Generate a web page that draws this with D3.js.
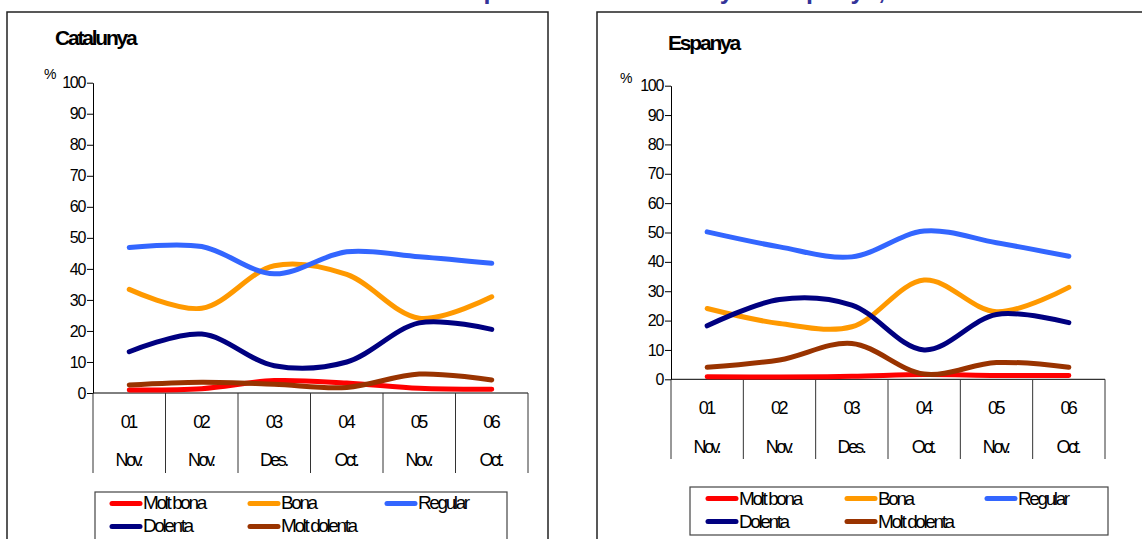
<!DOCTYPE html>
<html>
<head>
<meta charset="utf-8">
<script src="https://cdn.jsdelivr.net/npm/d3@7"></script>
<style>
  html, body { margin: 0; padding: 0; background: #ffffff; overflow: hidden; }
  svg { display: block; }
  text { font-family: "Liberation Sans", Arial, sans-serif; fill: #000; }
</style>
</head>
<body>
<svg id="chart" width="1142" height="539"></svg>
<script>
// ---------- data ----------
const categoriesYear  = ["01", "02", "03", "04", "05", "06"];
const categoriesMonth = ["Nov.", "Nov.", "Des.", "Oct.", "Nov.", "Oct."];
const seriesNames  = ["Molt bona", "Bona", "Regular", "Dolenta", "Molt dolenta"];
const seriesColors = ["#ff0000", "#ff9900", "#3366ff", "#000080", "#993300"];
const yTicks = [0, 10, 20, 30, 40, 50, 60, 70, 80, 90, 100];

const catMoltBona    = [1.0, 1.4, 4.0, 3.2, 1.5, 1.2];
const catBona        = [33.4, 27.3, 41.0, 38.2, 24.1, 31.0];
const catRegular     = [46.9, 47.2, 38.4, 45.5, 43.9, 41.8];
const catDolenta     = [13.3, 19.0, 8.8, 10.0, 22.6, 20.5];
const catMoltDolenta = [2.6, 3.5, 2.8, 1.8, 6.1, 4.2];

const espMoltBona    = [0.9, 0.8, 1.0, 1.6, 1.3, 1.3];
const espBona        = [24.1, 19.0, 17.9, 33.8, 23.0, 31.3];
const espRegular     = [50.2, 45.1, 41.7, 50.5, 46.5, 41.9];
const espDolenta     = [18.2, 27.2, 25.3, 10.0, 22.1, 19.3];
const espMoltDolenta = [4.1, 6.6, 12.2, 1.8, 5.7, 4.1];

const panelTitles = ["Catalunya", "Espanya"];

// ---------- drawing ----------
const svg = d3.select("#chart");

// main title (cut off at the top edge in the reference, only descenders visible)
const titleG = svg.append("g").attr("class", "main-title")
  .style("font-weight", "bold").style("font-size", "25px");
[
  { t: "Evolució de la situació", x: 475, anchor: "end" },
  { t: "política a", x: 483.5, anchor: "start" },
  { t: "Catalunya i", x: 628, anchor: "start" },
  { t: "Espanya, 2001-2006", x: 775.5, anchor: "start" }
].forEach(s => {
  titleG.append("text").attr("x", s.x).attr("y", -1)
    .attr("text-anchor", s.anchor).style("fill", "#333399").text(s.t);
});

const panels = [
  {
    title: panelTitles[0],
    series: [catMoltBona, catBona, catRegular, catDolenta, catMoltDolenta],
    box: { x: 7, y: 12, w: 541, h: 560 },
    x0: 93, x1: 528, y0: 393, y100: 82.7, tickBottom: 473,
    lab1: 427.5, lab2: 465.5,
    titleX: 55, titleY: 44.5,
    pctX: 44, pctY: 79,
    legend: { x: 95, y: 492, w: 412, h: 60, rows: [503.5, 526.5], cols: [110, 248, 385], textY: 5.5 }
  },
  {
    title: panelTitles[1],
    series: [espMoltBona, espBona, espRegular, espDolenta, espMoltDolenta],
    box: { x: 597, y: 12, w: 560, h: 560 },
    x0: 671, x1: 1105, y0: 379.3, y100: 85.7, tickBottom: 459,
    lab1: 413.5, lab2: 452.5,
    titleX: 668, titleY: 50,
    pctX: 620, pctY: 83,
    legend: { x: 690, y: 487, w: 418, h: 48, rows: [498.5, 521.5], cols: [706, 845, 985], textY: 6 }
  }
];

panels.forEach(p => {
  const g = svg.append("g");

  // panel frame
  g.append("rect")
    .attr("x", p.box.x).attr("y", p.box.y)
    .attr("width", p.box.w).attr("height", p.box.h)
    .attr("fill", "none").attr("stroke", "#222").attr("stroke-width", 1.5);

  // panel title
  g.append("text")
    .attr("x", p.titleX).attr("y", p.titleY)
    .style("font-weight", "bold").style("font-size", "21px")
    .style("letter-spacing", "-2.2px")
    .text(p.title);

  // % label
  g.append("text")
    .attr("x", p.pctX).attr("y", p.pctY)
    .style("font-size", "14px")
    .text("%");

  const y = d3.scaleLinear().domain([0, 100]).range([p.y0, p.y100]);
  const x = d3.scaleBand().domain(d3.range(categoriesYear.length)).range([p.x0, p.x1]);

  // y axis
  const yAxis = g.append("g")
    .attr("transform", `translate(${p.x0},0)`)
    .call(d3.axisLeft(y).tickValues(yTicks).tickSize(6).tickSizeOuter(0).tickPadding(2));
  yAxis.select(".domain").attr("stroke", "#000");
  yAxis.selectAll(".tick line").attr("stroke", "#000");
  yAxis.selectAll(".tick text")
    .style("font-family", "\"Liberation Sans\", Arial, sans-serif")
    .style("font-size", "16px")
    .style("letter-spacing", "-1.3px")
    .attr("fill", "#000");

  // x axis baseline
  g.append("line")
    .attr("x1", x.range()[0]).attr("x2", x.range()[1])
    .attr("y1", y(0)).attr("y2", y(0))
    .attr("stroke", "#000").attr("stroke-width", 1);

  // category separators
  const bounds = d3.range(categoriesYear.length + 1).map(i => x.range()[0] + i * x.step());
  g.selectAll(".sep").data(bounds).join("line")
    .attr("class", "sep")
    .attr("x1", d => d).attr("x2", d => d)
    .attr("y1", y(0)).attr("y2", p.tickBottom)
    .attr("stroke", "#333").attr("stroke-width", 1);

  // category labels
  const labStyle = sel => sel
    .attr("text-anchor", "middle")
    .style("font-size", "18px")
    .style("letter-spacing", "-2.6px");
  g.selectAll(".lab1").data(categoriesYear).join("text")
    .attr("class", "lab1")
    .attr("x", (d, i) => x(i) + x.bandwidth() / 2 - 1)
    .attr("y", p.lab1)
    .call(labStyle)
    .text(d => d);
  g.selectAll(".lab2").data(categoriesMonth).join("text")
    .attr("class", "lab2")
    .attr("x", (d, i) => x(i) + x.bandwidth() / 2 - 1)
    .attr("y", p.lab2)
    .call(labStyle)
    .text(d => d);

  // series lines
  const line = d3.line()
    .x((d, i) => x(i) + x.bandwidth() / 2)
    .y(d => y(d))
    .curve(d3.curveCatmullRom.alpha(0.5));
  g.selectAll(".series").data(p.series).join("path")
    .attr("class", "series")
    .attr("d", d => line(d))
    .attr("fill", "none")
    .attr("stroke", (d, i) => seriesColors[i])
    .attr("stroke-width", 5)
    .attr("stroke-linecap", "round")
    .attr("stroke-linejoin", "round");

  // legend
  const L = p.legend;
  g.append("rect")
    .attr("x", L.x).attr("y", L.y).attr("width", L.w).attr("height", L.h)
    .attr("fill", "#fff").attr("stroke", "#444").attr("stroke-width", 1.2);
  const items = seriesNames.map((name, i) => ({
    name, color: seriesColors[i],
    col: i % 3, row: Math.floor(i / 3)
  }));
  const li = g.selectAll(".leg").data(items).join("g")
    .attr("class", "leg")
    .attr("transform", d => `translate(${L.cols[d.col]},${L.rows[d.row]})`);
  li.append("line")
    .attr("x1", 2).attr("x2", 30).attr("y1", 0).attr("y2", 0)
    .attr("stroke", d => d.color).attr("stroke-width", 5)
    .attr("stroke-linecap", "round");
  li.append("text")
    .attr("x", 33).attr("y", L.textY)
    .style("font-size", "19px")
    .style("letter-spacing", "-2.4px")
    .text(d => d.name);
});
</script>
</body>
</html>
